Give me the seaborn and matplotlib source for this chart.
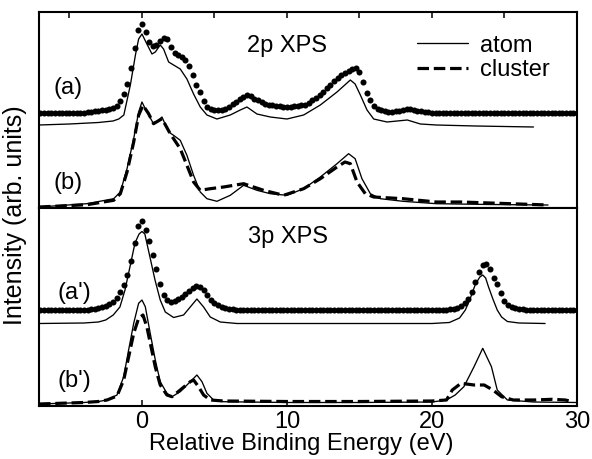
import numpy as np
import pandas as pd
import matplotlib
matplotlib.use("Agg")
import matplotlib.pyplot as plt
from matplotlib.lines import Line2D
import seaborn as sns

# ---------------- data (intensities in arbitrary units, already offset) -------------
energy_grid = np.arange(-7.0, 30.001, 0.25)

exp_2p = ([95] * 13 +
          [95.5, 96, 96.5, 97, 97.5, 98, 99, 100, 102, 107, 114, 124, 140, 160, 178,
           184, 176, 166, 162, 163, 167, 170, 169, 161, 155, 152.5, 150.5, 147.5, 142, 133,
           123, 116, 107, 101, 98.5,
           97.5, 97.5, 98, 99, 101, 103.5, 106, 108.5, 111, 112.5, 111.5, 109, 107.5, 106,
           104, 103, 102.5, 102, 101.5, 101,
           101, 101, 101.5, 102, 102.5, 103, 105, 107.5, 110, 112.5, 116, 119.5, 123, 126.5,
           129.5, 132.5, 135, 137, 139, 139.5,
           136, 126, 115, 107.5, 102, 99, 97.5, 96.5, 96, 96, 96.5, 97, 98, 98.5, 98.5, 98,
           97, 96.5, 96, 95.5] +
          [95] * 41)

atom_a_E = [-7.1, -5.0, -3.0, -2.0, -1.6, -1.25, -0.8, -0.45, -0.23, 0.0, 0.34, 0.69, 0.92,
            1.26, 1.49, 1.84, 2.18, 2.64, 3.1, 3.56, 4.02, 4.48, 5.17, 6.09, 6.78, 7.24, 7.93,
            8.85, 10.0, 11.15, 12.3, 13.45, 14.37, 14.7, 15.06, 15.52, 15.98, 16.9, 18.3, 19.2,
            20.3, 23.0, 27.0]
atom_a_I = [83, 84, 85.5, 87, 89, 93, 123, 153, 169, 174, 164, 154, 156, 163, 159, 146, 143,
            139, 129, 114, 101, 93, 89, 93, 98, 101, 94, 91, 89, 93, 103, 116, 128, 124, 113,
            98, 89, 86, 88, 84, 83, 82, 81]

atom_b_E = [-7.1, -3.8, -1.95, -1.49, -1.03, -0.57, -0.23, 0.0, 0.34, 0.8, 1.1, 1.38, 1.84,
            2.18, 2.64, 3.1, 3.56, 4.02, 4.48, 5.17, 6.09, 7.01, 7.93, 8.85, 10.0, 11.15, 12.3,
            13.45, 14.25, 14.7, 15.17, 15.75, 16.44, 18.0, 20.3, 24.0, 28.0]
atom_b_I = [1, 4.3, 9.3, 16, 39.3, 69.3, 96, 106, 96, 84.3, 87, 91, 76, 72.7, 67.7, 52.7, 32.7,
            16, 9.3, 6.7, 12.7, 22.7, 17.7, 14.3, 12.7, 19.3, 31, 44.3, 54.3, 49.3, 29.3, 14.3,
            9.3, 6.7, 4.3, 3.5, 3]

clus_b_E = [-7.1, -3.8, -1.95, -1.49, -1.03, -0.57, -0.23, 0.07, 0.46, 0.8, 1.38, 1.95, 2.64,
            3.1, 3.56, 4.02, 4.71, 5.63, 7.01, 8.39, 9.77, 11.15, 12.3, 13.45, 14.0, 14.37,
            14.83, 15.4, 15.98, 18.0, 20.3, 22.0, 25.0, 28.0]
clus_b_I = [1, 3.3, 7.7, 14.3, 36, 66, 92.7, 102.7, 94.3, 84.3, 89.3, 74.3, 59.3, 42.7, 26,
            17.7, 19.3, 21, 24.3, 17.7, 12.7, 19.3, 29.3, 41, 46, 44.3, 26, 14.3, 11, 9.3, 6,
            6, 4.5, 3]

exp_3p = ([96.5] * 14 +
          [97, 97.5, 98, 99, 100.5, 102.5, 104.5, 108, 114, 121,
           131, 145, 163, 180, 185, 176, 165, 151, 137, 122,
           111, 106, 104.5, 105, 107, 109, 112, 115.5, 118.5, 120,
           119, 116, 111, 106, 103, 101, 99.5, 98.5, 97.5, 97] +
          [96.5] * 59 +
          [97, 97.5, 98.5, 100, 103, 107, 114, 124, 134, 141,
           142.5, 137, 128, 122, 113, 105, 101.5, 99.5, 98, 97.5, 97] +
          [96.5] * 15)

atom_a3_E = [-7.1, -4, -3, -2.5, -1.98, -1.52, -1.17, -0.83, -0.48, -0.2, 0.0, 0.2, 0.32, 0.55,
             0.9, 1.26, 1.61, 2.18, 2.87, 3.33, 3.79, 4.25, 4.71, 5.4, 6.55, 10, 15, 20, 21.2,
             21.9, 22.3, 22.6, 23.0, 23.3, 23.5, 23.7, 23.9, 24.2, 24.5, 24.8, 25.2, 26, 27.8]
atom_a3_I = [82.5, 83, 84, 86, 91, 99, 116, 139, 163, 172, 174.5, 172, 164, 149, 126, 106, 94,
             88.5, 91, 99, 107, 99, 89, 84, 82.5, 82.5, 82.5, 82.5, 83.5, 88, 96, 106, 122,
             129, 131, 128, 119, 107, 96, 89, 84.5, 83, 82.5]

atom_b3_E = [-7.1, -4.0, -3.0, -2.41, -1.72, -1.26, -0.92, -0.57, -0.23, 0.0, 0.23, 0.57, 0.92,
             1.26, 1.72, 2.07, 2.64, 3.33, 3.79, 4.14, 4.48, 4.94, 5.63, 10.0, 15.0, 20.0,
             21.0, 21.6, 22.2, 22.9, 23.5, 24.1, 24.5, 25.2, 27.0, 30.0]
atom_b3_I = [2, 3.5, 4.5, 6, 11, 29.3, 56, 82.7, 102.7, 106, 99.3, 72.7, 46, 24.3, 12.7, 9.3,
             14.3, 24.3, 31, 24.3, 12.7, 6, 4.3, 3.5, 3.5, 4, 6, 11, 19.3, 39.3, 57.7, 39.3, 16,
             6, 4, 3.5]

clus_b3_E = [-7.1, -4.0, -3.0, -2.41, -1.72, -1.26, -0.92, -0.57, -0.23, 0.07, 0.34, 0.63, 0.92,
             1.26, 1.72, 2.07, 2.64, 3.33, 3.56, 3.9, 4.25, 4.71, 5.63, 10.0, 15.0, 20.0, 21.0,
             21.4, 22.0, 22.9, 23.6, 24.2, 24.8, 25.6, 27.0, 28.3, 29.2, 29.7]
clus_b3_I = [2, 3.5, 4.5, 6, 10, 26, 49, 72.7, 87.7, 91, 79, 59, 39, 21, 11, 9.3, 16, 24.3, 26,
             19.3, 11, 6, 5, 4.5, 4.5, 5, 6, 16, 22.7, 21, 21, 16, 9.3, 6, 6, 6.7, 6, 4.3]

x_ticks = [0, 10, 20, 30]
x_tick_labels = ["0", "10", "20", "30"]
top_ticks = [-5, 0, 5, 10, 15, 20, 25]

# ---------------- figure -------------
sns.set_theme(style="ticks")
plt.rcParams["font.family"] = ["Liberation Sans", "DejaVu Sans"]
plt.rcParams["text.color"] = "black"
plt.rcParams["axes.labelcolor"] = "black"
plt.rcParams["xtick.color"] = "black"
plt.rcParams["xtick.labelcolor"] = "black"

W, H = 592, 459
fig = plt.figure(figsize=(W / 100, H / 100), dpi=100)
L, R = 39, 577
ax1 = fig.add_axes([L / W, (H - 208) / H, (R - L) / W, 196 / H])
ax2 = fig.add_axes([L / W, (H - 406) / H, (R - L) / W, 198 / H])

solid_kw = dict(color="black", lw=0.95, estimator=None, sort=False)
dash_kw = dict(color="black", lw=2.3, estimator=None, sort=False, linestyle=(0, (3.6, 1.5)))
dot_kw = dict(color="black", s=19, linewidth=0, zorder=3)

df_2p = pd.DataFrame({"E": energy_grid, "I": exp_2p})
df_3p = pd.DataFrame({"E": energy_grid, "I": exp_3p})

sns.lineplot(x=atom_a_E, y=atom_a_I, ax=ax1, **solid_kw)
sns.lineplot(x=atom_b_E, y=atom_b_I, ax=ax1, **solid_kw)
sns.lineplot(x=clus_b_E, y=clus_b_I, ax=ax1, **dash_kw)
sns.scatterplot(data=df_2p, x="E", y="I", ax=ax1, **dot_kw)

sns.lineplot(x=atom_a3_E, y=atom_a3_I, ax=ax2, **solid_kw)
sns.lineplot(x=atom_b3_E, y=atom_b3_I, ax=ax2, **solid_kw)
sns.lineplot(x=clus_b3_E, y=clus_b3_I, ax=ax2, **dash_kw)
sns.scatterplot(data=df_3p, x="E", y="I", ax=ax2, **dot_kw)

FS = 17
for ax, ylim in ((ax1, (0, 196)), (ax2, (0, 198))):
    ax.set_xlim(-7.1, 30.0)
    ax.set_ylim(*ylim)
    ax.set_xlabel("")
    ax.set_ylabel("")
    ax.set_yticks([])
    for sp in ax.spines.values():
        sp.set_visible(True)
        sp.set_linewidth(1.5)
        sp.set_color("black")
    ax.set_facecolor("white")

ax1.set_xticks(top_ticks)
ax1.tick_params(axis="x", which="both", direction="in", top=True, bottom=False,
                labeltop=False, labelbottom=False, length=4.5, width=1.1, color="black")
ax2.set_xticks(x_ticks)
ax2.set_xticklabels(x_tick_labels)
ax2.tick_params(axis="x", direction="in", top=False, bottom=True, labelsize=FS,
                length=4.5, width=1.1, pad=3.5, color="black", labelcolor="black")

ax1.text(10.0, 156, "2p XPS", fontsize=FS, ha="center", va="baseline", color="black")
ax2.text(10.1, 163, "3p XPS", fontsize=FS, ha="center", va="baseline", color="black")
ax1.text(-6.07, 114, "(a)", fontsize=FS, ha="left", va="baseline", color="black")
ax1.text(-6.07, 19, "(b)", fontsize=FS, ha="left", va="baseline", color="black")
ax2.text(-5.8, 107, "(a')", fontsize=FS, ha="left", va="baseline", color="black")
ax2.text(-5.8, 19, "(b')", fontsize=FS, ha="left", va="baseline", color="black")

handles = [Line2D([], [], color="black", lw=0.95),
           Line2D([], [], color="black", lw=2.3, linestyle=(0, (3.6, 1.5)))]
leg = ax1.legend(handles, ["atom", "cluster"], loc="upper left", bbox_to_anchor=(0.703, 0.885),
                 frameon=False, fontsize=FS, handlelength=2.15, handletextpad=0.5,
                 labelspacing=0.1, borderpad=0, borderaxespad=0, labelcolor="black")

fig.text(301 / W, 1 - 444 / H, "Relative Binding Energy (eV)", fontsize=FS,
         ha="center", va="center", color="black")
fig.text(15 / W, 1 - 215 / H, "Intensity (arb. units)", fontsize=18, rotation=90,
         ha="center", va="center", color="black")

fig.savefig("out.png", dpi=100, facecolor="white")
